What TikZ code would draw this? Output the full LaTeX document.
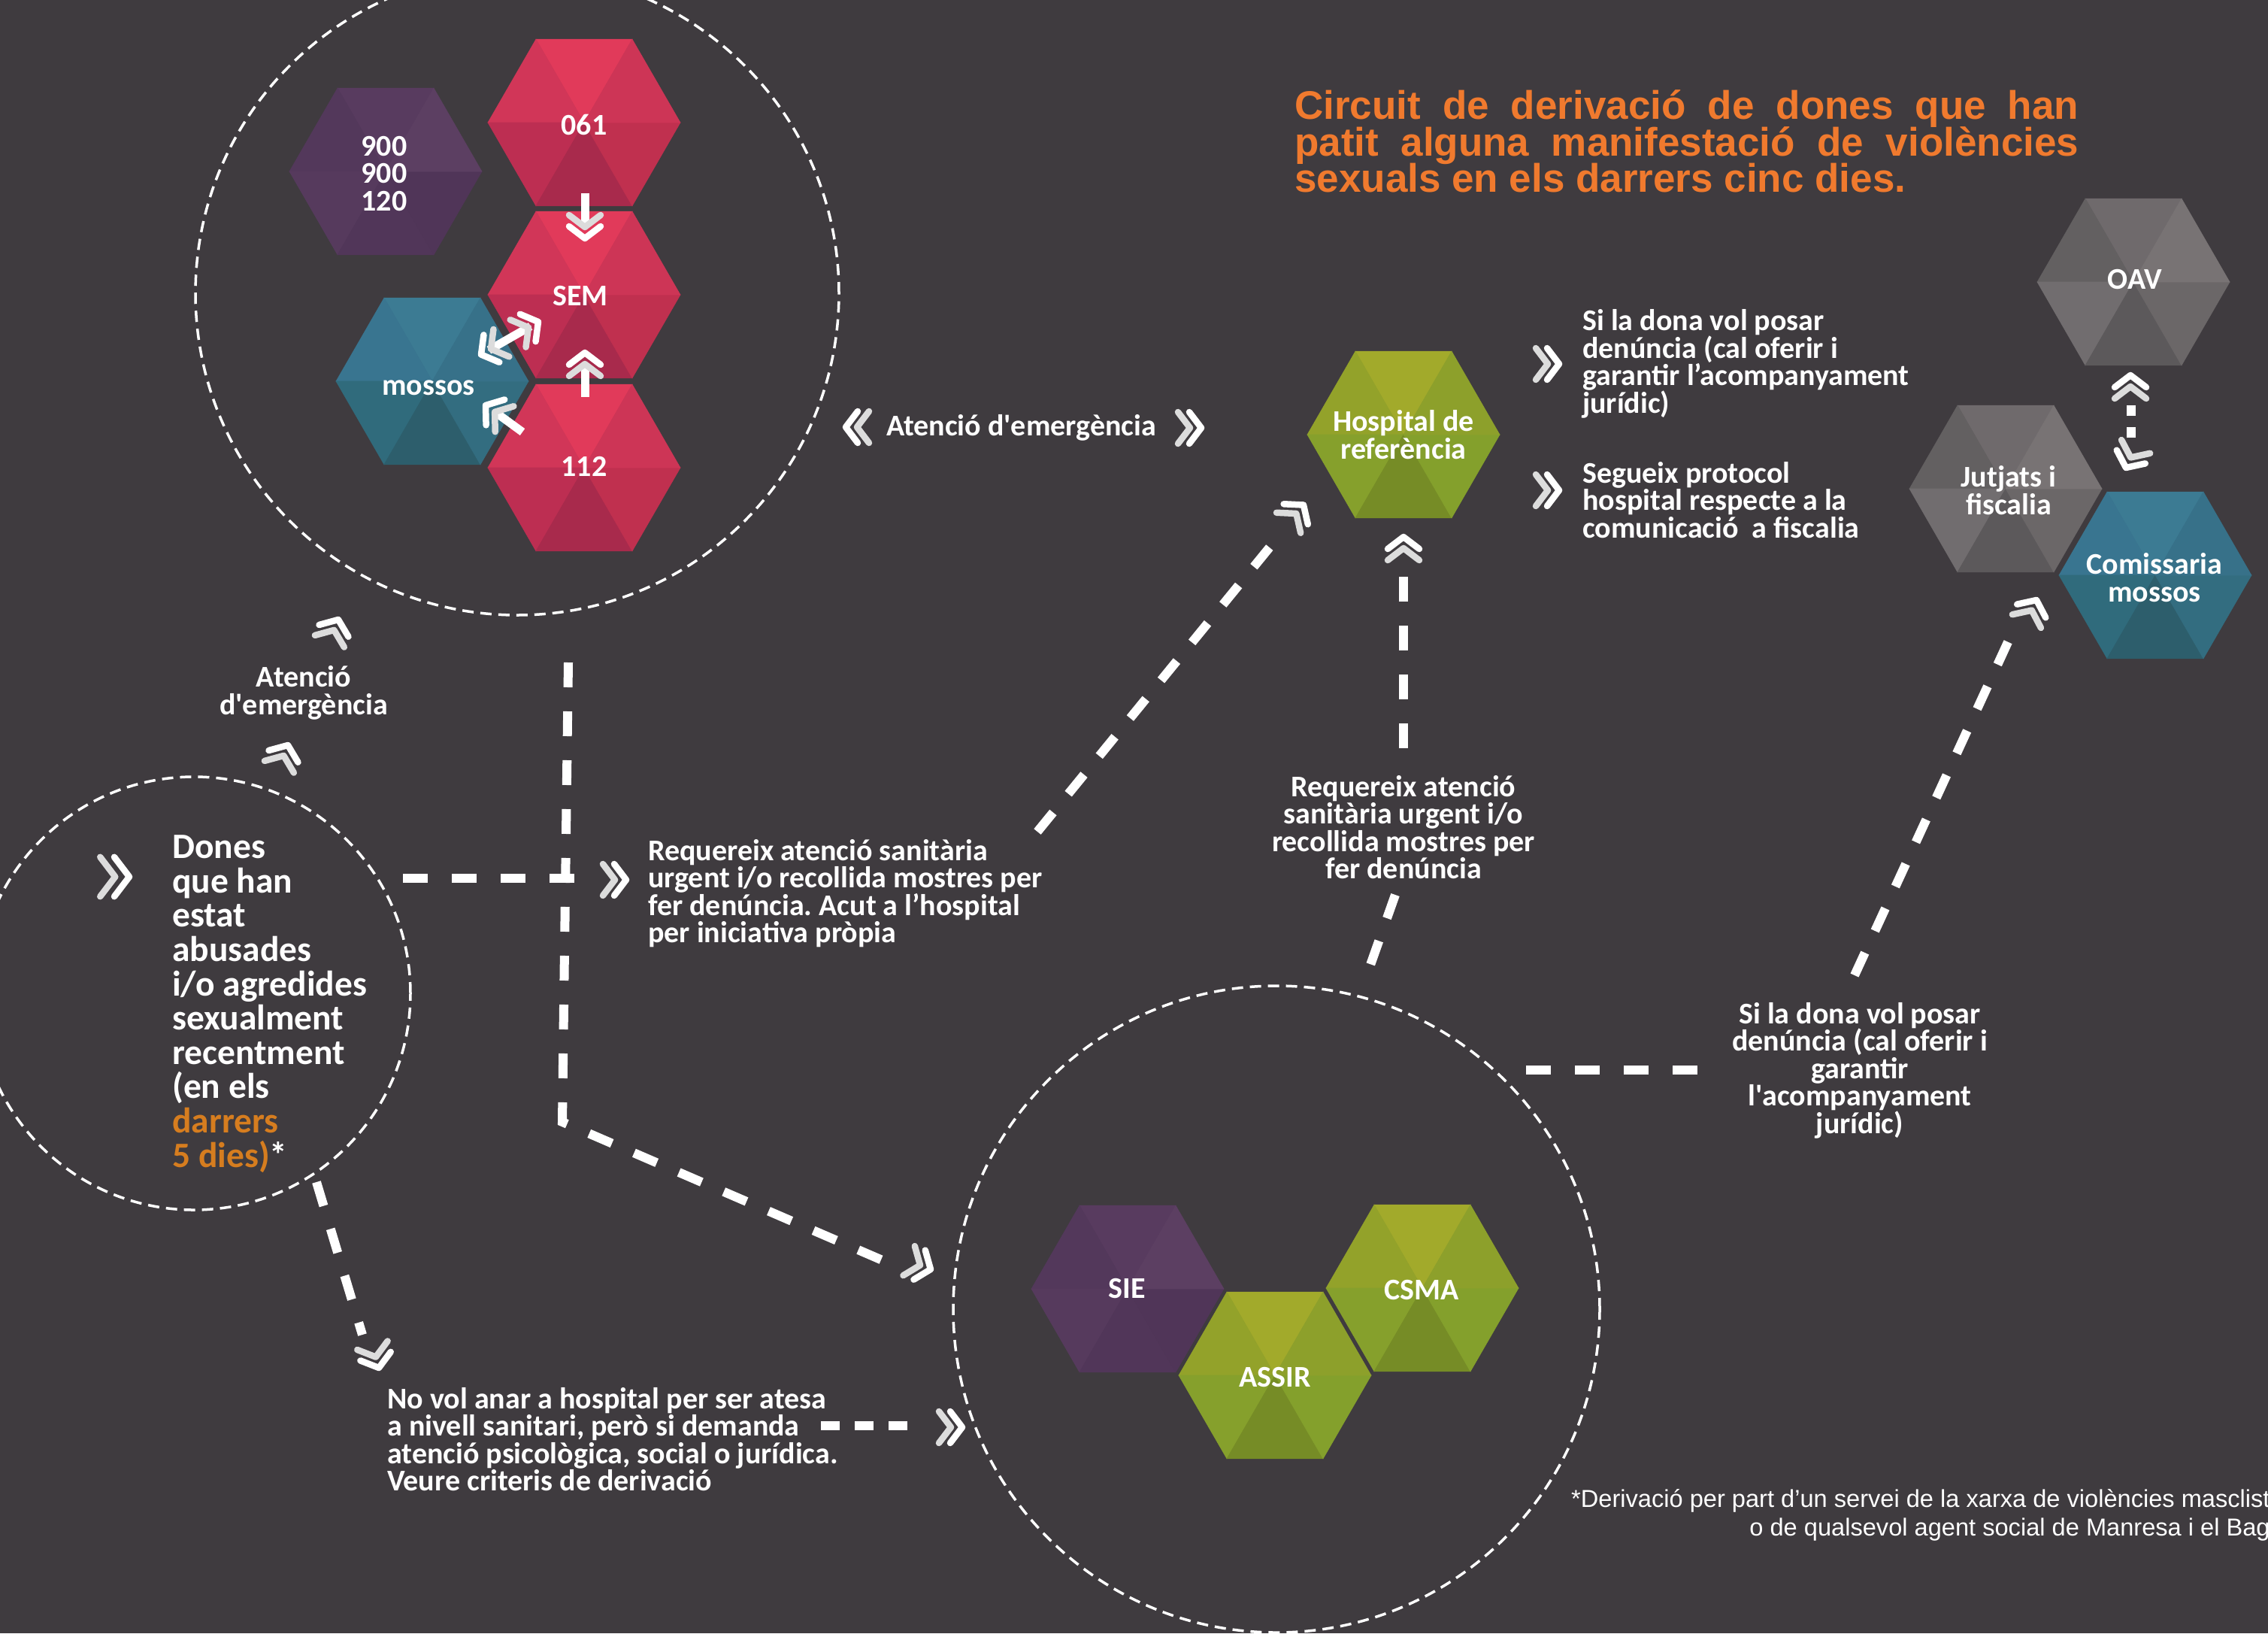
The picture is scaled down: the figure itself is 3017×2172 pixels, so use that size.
\documentclass[tikz,border=0pt]{standalone}
\usepackage{fontspec}
\newfontfamily\bodyfont{Carlito}
\newfontfamily\titlefont{Liberation Sans}
\newfontfamily\footfont{Liberation Sans}
\frenchspacing
\definecolor{bg}{HTML}{3F3B3F}
\definecolor{titleorange}{HTML}{F07A2E}
\definecolor{dorange}{HTML}{D67D1F}
\definecolor{chevback}{HTML}{DCDCDC}
% red
\definecolor{redT}{HTML}{E13A5A}\definecolor{redUL}{HTML}{D13658}\definecolor{redUR}{HTML}{CD3556}
\definecolor{redLL}{HTML}{BD2E52}\definecolor{redLR}{HTML}{C0304F}\definecolor{redB}{HTML}{A82A4C}
% purple
\definecolor{purT}{HTML}{583B5F}\definecolor{purUL}{HTML}{53385B}\definecolor{purUR}{HTML}{5C3F62}
\definecolor{purLL}{HTML}{563A5D}\definecolor{purLR}{HTML}{503558}\definecolor{purB}{HTML}{513659}
% teal
\definecolor{tealT}{HTML}{3C7B93}\definecolor{tealUL}{HTML}{397590}\definecolor{tealUR}{HTML}{377189}
\definecolor{tealLL}{HTML}{306B7C}\definecolor{tealLR}{HTML}{336D80}\definecolor{tealB}{HTML}{2D5E6C}
% green
\definecolor{grnT}{HTML}{A2AA2B}\definecolor{grnUL}{HTML}{93A22A}\definecolor{grnUR}{HTML}{8DA02B}
\definecolor{grnLL}{HTML}{86A02C}\definecolor{grnLR}{HTML}{84A02C}\definecolor{grnB}{HTML}{768C26}
% gray
\definecolor{gryT}{HTML}{6F6A6C}\definecolor{gryUL}{HTML}{636061}\definecolor{gryUR}{HTML}{787374}
\definecolor{gryLL}{HTML}{716D6F}\definecolor{gryLR}{HTML}{6B6768}\definecolor{gryB}{HTML}{5C595B}

\newcommand\hexfont{\bodyfont\bfseries\fontsize{40}{36.5}\selectfont\lineskiplimit=-100pt}
\newcommand\bodytext{\bodyfont\bfseries\fontsize{40}{36.6}\selectfont\lineskiplimit=-100pt}
\newcommand\donestext{\bodyfont\bfseries\fontsize{47.5}{45.6}\selectfont\lineskiplimit=-100pt}
\newcommand\titletext{\titlefont\bfseries\fontsize{53}{48.5}\selectfont\lineskiplimit=-100pt}
\newcommand\foottext{\footfont\fontsize{32.6}{38.5}\selectfont\lineskiplimit=-100pt}

\newcommand\hexcell[3]{%
  \begin{scope}[shift={(#1,#2)}, line width=0.6pt]
    \filldraw[fill=#3T, draw=#3T]   (0,0)--(60:128)--(120:128)--cycle;
    \filldraw[fill=#3UL, draw=#3UL] (0,0)--(120:128)--(180:128)--cycle;
    \filldraw[fill=#3LL, draw=#3LL] (0,0)--(180:128)--(240:128)--cycle;
    \filldraw[fill=#3B, draw=#3B]   (0,0)--(240:128)--(300:128)--cycle;
    \filldraw[fill=#3LR, draw=#3LR] (0,0)--(300:128)--(0:128)--cycle;
    \filldraw[fill=#3UR, draw=#3UR] (0,0)--(0:128)--(60:128)--cycle;
  \end{scope}}

\tikzset{
  dline/.style={white, line width=12pt, dash pattern=on 33pt off 32pt},
  ring/.style={draw=white, circle, inner sep=0pt, line width=3.5pt, dash pattern=on 15pt off 9pt},
  chevline/.style={line width=8.5pt, line cap=round, line join=round},
  stem/.style={white, line width=11pt},
  dchev/.pic={
    \draw[chevline, chevback] (-31,21)--(-15,0)--(-31,-21);
    \draw[chevline, white] (-16,21)--(0,0)--(-16,-21);},
  hexlabel/.style={text=white, font=\hexfont, align=center, inner sep=0pt},
  body/.style={text=white, font=\bodytext, inner sep=0pt},
}

\begin{document}
\begin{tikzpicture}[x=1pt, y=1pt]
\useasboundingbox (0,0) rectangle (3017,-2172);
\fill[bg] (0,0) rectangle (3017,-2172);

% circles
\node[ring, minimum size=856pt] (topc) at (688,-390) {};
\node[ring, minimum size=576pt] (leftc) at (258,-1321) {};
\node[ring, minimum size=860pt] (botc) at (1698,-1741) {};

% hexagons top circle
\hexcell{513}{-228}{pur}
\hexcell{777}{-163}{red}
\hexcell{777}{-392}{red}
\hexcell{777}{-622}{red}
\hexcell{575}{-507}{teal}
\node[hexlabel] (n900) at (511,-231) {900\\900\\120};
\node[hexlabel] (n061) at (777,-166) {061};
\node[hexlabel] (nsem) at (772,-394) {SEM};
\node[hexlabel] (n112) at (777,-620) {112};
\node[hexlabel] (nmos) at (570,-516) {mossos};

% right hexagons
\hexcell{1867}{-578}{grn}
\hexcell{2838}{-375}{gry}
\hexcell{2668}{-650}{gry}
\hexcell{2867}{-765}{teal}
\node[hexlabel] (nhosp) at (1867,-578) {Hospital de\\referència};
\node[hexlabel] (noav) at (2840,-372) {OAV};
\node[hexlabel] (njut) at (2672,-652) {Jutjats i\\fiscalia};
\node[hexlabel] (ncom) at (2866,-768) {Comissaria\\mossos};

% bottom hexagons
\hexcell{1500}{-1714}{pur}
\hexcell{1892}{-1713}{grn}
\hexcell{1696}{-1829}{grn}
\node[hexlabel] (nsie) at (1499,-1713) {SIE};
\node[hexlabel] (nassir) at (1696,-1831) {ASSIR};
\node[hexlabel] (ncsma) at (1891,-1715) {CSMA};

% inner arrows
\coordinate (s1a) at (778,-257); \coordinate (s1b) at (778,-300); \coordinate (t1) at (778,-317);
\draw[stem] (s1a) -- (s1b); \pic[rotate=-90] at (t1) {dchev};
\coordinate (s2a) at (778,-528); \coordinate (s2b) at (778,-485); \coordinate (t2) at (778,-469);
\draw[stem] (s2a) -- (s2b); \pic[rotate=90] at (t2) {dchev};
\coordinate (t3a) at (640,-471.5); \coordinate (t3b) at (716,-428);
\draw[stem, shorten <=12pt, shorten >=12pt] (t3a) -- (t3b);
\pic[rotate=209.8] at (t3a) {dchev}; \pic[rotate=29.8] at (t3b) {dchev};
\coordinate (s4a) at (695,-574.5); \coordinate (s4b) at (660,-549); \coordinate (t4) at (646,-539);
\draw[stem] (s4a) -- (s4b); \pic[rotate=144] at (t4) {dchev};

% title
\node[anchor=west, inner sep=0pt, text=titleorange, font=\titletext, align=left] (title) at (1722,-188)
{\makebox[1043pt][s]{Circuit de derivació de dones que han}\\
 \makebox[1043pt][s]{patit alguna manifestació de violències}\\
 sexuals en els darrers cinc dies.};

% emergency label between
\node[body] (emerg) at (1358.5,-569) {Atenció d\textquotesingle emergència};
\pic[rotate=180] at (1125,-568) {dchev};
\pic at (1598,-569) {dchev};

% Dones
\node[anchor=west, align=left, text=white, font=\donestext, inner sep=0pt] (dones) at (229,-1335)
{Dones\\que han\\estat\\abusades\\i/o agredides\\sexualment\\recentment\\(en els\\{\color{dorange}darrers}\\{\color{dorange}5 dies)}*};
\pic[scale=1.25] at (172,-1166) {dchev};

% small emergency label
\node[body, align=center] (emsmall) at (404,-921.5) {Atenció\\d\textquotesingle emergència};
\pic[rotate=68] at (450,-824) {dchev};
\pic[rotate=68] at (383,-991) {dchev};

% text B
\node[body, anchor=west, align=left] (txtB) at (862,-1188)
{Requereix atenció sanitària\\urgent i/o recollida mostres per\\fer denúncia. Acut a l’hospital\\per iniciativa pròpia};
% text C
\node[body, align=center] (txtC) at (1867,-1100)
{Requereix atenció\\sanitària urgent i/o\\recollida mostres per\\fer denúncia};
% text D
\node[body, align=center] (txtD) at (2474,-1423.6)
{Si la dona vol posar\\denúncia (cal oferir i\\garantir\\l\textquotesingle acompanyament\\jurídic)};
% text E, F
\node[body, anchor=west, align=left] (txtE) at (2105,-484)
{Si la dona vol posar\\denúncia (cal oferir i\\garantir l’acompanyament\\jurídic)};
\node[body, anchor=west, align=left] (txtF) at (2105,-665)
{Segueix protocol\\hospital respecte a la\\comunicació\ \ a fiscalia};
\pic at (2074,-484) {dchev};
\pic at (2074,-652) {dchev};
% text G
\node[body, anchor=west, align=left] (txtG) at (515,-1914)
{No vol anar a hospital per ser atesa\\a nivell sanitari, però si demanda\\atenció psicològica, social o jurídica.\\Veure criteris de derivació};

% footnote
\node[anchor=west, align=right, text=white, font=\foottext, inner sep=0pt] (foot) at (2090,-2015)
{*Derivació per part d’un servei de la xarxa de violències masclistes\\o de qualsevol agent social de Manresa i el Bages};

% dashed connectors
\coordinate (a1) at (756,-881); \coordinate (a2) at (748,-1492); \coordinate (a3) at (1190,-1683);
\draw[dline] (a1) -- (a2) -- (a3);
\pic[rotate=-21.5] at (1238,-1688) {dchev};

\coordinate (b1) at (536,-1168); \coordinate (b2) at (782,-1168);
\draw[dline] (b1) -- (b2);
\pic at (833,-1170) {dchev};

\coordinate (c1) at (1380,-1106); \coordinate (c2) at (1706,-707);
\draw[dline] (c1) -- (c2);
\pic[rotate=50] at (1734,-671.5) {dchev};

\coordinate (d1) at (1867,-995); \coordinate (d2) at (1867,-766);
\draw[dline] (d1) -- (d2);
\pic[rotate=90] at (1867,-714) {dchev};

\coordinate (e1) at (1856,-1190); \coordinate (e2) at (1817,-1300);
\draw[dline] (e1) -- (e2);

\coordinate (f1) at (2030,-1423); \coordinate (f2) at (2262,-1423);
\draw[dline] (f1) -- (f2);

\coordinate (g1) at (2467,-1297); \coordinate (g2) at (2676,-843);
\draw[dline] (g1) -- (g2);
\pic[rotate=65] at (2709,-798) {dchev};

\coordinate (h1) at (2835,-539); \coordinate (h2) at (2835,-582);
\draw[dline, dash pattern=on 14pt off 15pt] (h1) -- (h2);
\pic[rotate=90] at (2834,-499) {dchev};
\pic[rotate=-115] at (2828,-622) {dchev};

\coordinate (i1) at (421,-1572); \coordinate (i2) at (482,-1775);
\draw[dline] (i1) -- (i2);
\pic[rotate=-74] at (504,-1819) {dchev};

\coordinate (j1) at (1092,-1896); \coordinate (j2) at (1221,-1896);
\draw[dline, dash pattern=on 25pt off 20pt] (j1) -- (j2);
\pic at (1280,-1898) {dchev};
\end{tikzpicture}
\end{document}
